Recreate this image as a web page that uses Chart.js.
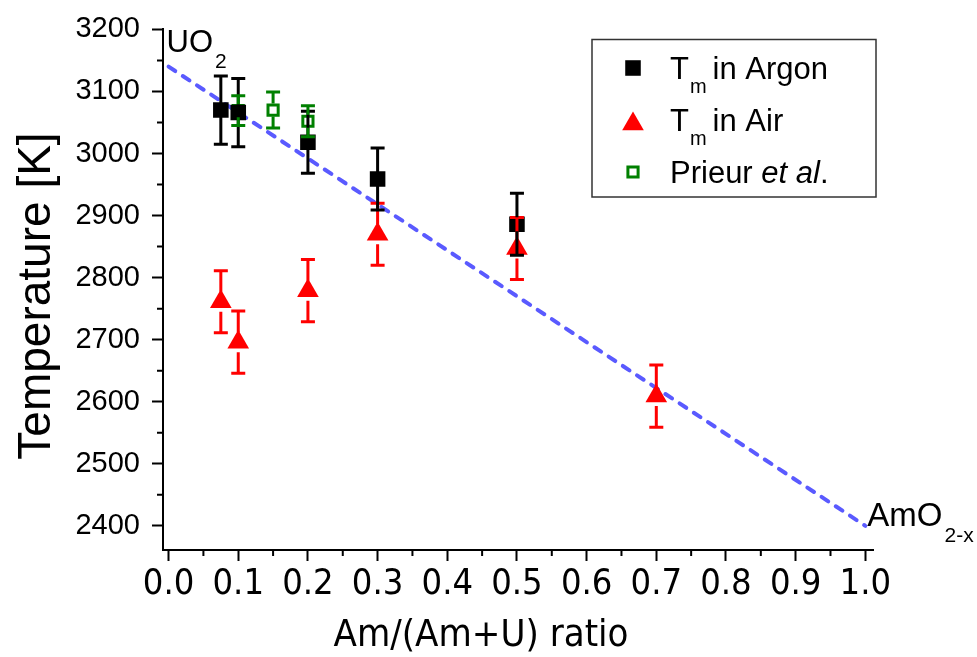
<!DOCTYPE html>
<html>
<head>
<meta charset="utf-8">
<script src="https://cdn.jsdelivr.net/npm/chart.js@4.4.1/dist/chart.umd.min.js"></script>
<style>
  html, body { margin:0; padding:0; background:#fff; }
  #wrap { width:977px; height:657px; position:relative; }
</style>
</head>
<body>
<div id="wrap"><canvas id="c" width="977" height="657"></canvas></div>
<script>
// x = Am/(Am+U) ratio, y = melting temperature [K]
var argonX   = [0.075, 0.1, 0.2, 0.3, 0.5];
var argonY   = [3070, 3066, 3018, 2959, 2886];
var argonErr = [55, 55, 50, 50, 50];

var airX   = [0.075, 0.1, 0.2, 0.3, 0.5, 0.7];
var airY   = [2761, 2696, 2779, 2870, 2847, 2609];
var airErr = [50, 50, 50, 50, 50, 50];

var prieurX   = [0.1, 0.15, 0.2];
var prieurY   = [3069, 3070, 3052];
var prieurErr = [24, 29, 25];

var fitX = [0, 1];
var fitY = [3140, 2400];

var xTicks = [0, 0.1, 0.2, 0.3, 0.4, 0.5, 0.6, 0.7, 0.8, 0.9, 1.0];
var yTicks = [2400, 2500, 2600, 2700, 2800, 2900, 3000, 3100, 3200];
var xMinor = [0.05, 0.15, 0.25, 0.35, 0.45, 0.55, 0.65, 0.75, 0.85, 0.95];
var yMinor = [2450, 2550, 2650, 2750, 2850, 2950, 3050, 3150];

var FONT = "'Liberation Sans', Arial, sans-serif";
var NARROW = "'Liberation Sans Narrow', 'Arial Narrow', 'DejaVu Sans Condensed', sans-serif";

function pts(xs, ys){
  var out = [];
  for (var i=0;i<xs.length;i++) out.push({x: xs[i], y: ys[i]});
  return out;
}

var argonStyle  = { pointStyle:'rect', radius:11, borderWidth:0, borderColor:'#000', backgroundColor:'#000' };
var airStyle    = { pointStyle:'triangle', radius:12.5, borderWidth:0, borderColor:'#f00', backgroundColor:'#f00' };
var prieurStyle = { pointStyle:'rect', radius:7.2, borderWidth:3, borderColor:'#008000', backgroundColor:'#fff' };

// error bars, drawn over all markers, with a gap round the marker centre
var errorBars = {
  id:'errorBars',
  afterDatasetsDraw: function(chart){
    var ctx = chart.ctx, xs = chart.scales.x, ys = chart.scales.y;
    var sets = [
      {x:airX, y:airY, e:airErr, color:'#f00', gap:10},
      {x:argonX, y:argonY, e:argonErr, color:'#000', gap:7},
      {x:prieurX, y:prieurY, e:prieurErr, color:'#008000', gap:6.5}
    ];
    ctx.save();
    ctx.lineWidth = 3;
    for (var s=0;s<sets.length;s++){
      var d = sets[s];
      ctx.strokeStyle = d.color;
      for (var i=0;i<d.x.length;i++){
        var px = xs.getPixelForValue(d.x[i]);
        var pc = ys.getPixelForValue(d.y[i]);
        var pt = ys.getPixelForValue(d.y[i] + d.e[i]);
        var pb = ys.getPixelForValue(d.y[i] - d.e[i]);
        ctx.beginPath();
        ctx.moveTo(px, pt); ctx.lineTo(px, pc - d.gap);
        ctx.moveTo(px, pc + d.gap); ctx.lineTo(px, pb);
        ctx.moveTo(px - 7, pt); ctx.lineTo(px + 7, pt);
        ctx.moveTo(px - 7, pb); ctx.lineTo(px + 7, pb);
        ctx.stroke();
      }
    }
    ctx.restore();
  }
};

function marker(ctx, st, x, y){
  ctx.fillStyle = st.backgroundColor;
  ctx.strokeStyle = st.borderColor;
  ctx.lineWidth = st.borderWidth;
  Chart.helpers.drawPoint(ctx, st, x, y);
}

// minor ticks, axis titles, compound labels and the legend
var extras = {
  id:'extras',
  afterDraw: function(chart){
    var ctx = chart.ctx, xs = chart.scales.x, ys = chart.scales.y, a = chart.chartArea;
    ctx.save();
    ctx.strokeStyle = '#000'; ctx.lineWidth = 2;
    ctx.beginPath();
    xMinor.forEach(function(v){ var p = xs.getPixelForValue(v); ctx.moveTo(p, a.bottom); ctx.lineTo(p, a.bottom + 6); });
    yMinor.forEach(function(v){ var p = ys.getPixelForValue(v); ctx.moveTo(a.left, p); ctx.lineTo(a.left - 6, p); });
    ctx.stroke();

    ctx.fillStyle = '#000';
    ctx.textBaseline = 'alphabetic';

    // axis titles
    ctx.font = '46px ' + FONT;
    ctx.save();
    ctx.translate(50, 296);
    ctx.rotate(-Math.PI/2);
    ctx.textAlign = 'center';
    ctx.fillText('Temperature [K]', 0, 0);
    ctx.restore();
    ctx.font = '38px ' + NARROW;
    ctx.textAlign = 'center';
    ctx.fillText('Am/(Am+U) ratio', 481, 646);
    ctx.textAlign = 'left';

    // end member labels
    function sub(main, s, x, y, big, small, drop){
      ctx.font = big + 'px ' + FONT;
      ctx.fillText(main, x, y);
      var w = ctx.measureText(main).width;
      ctx.font = small + 'px ' + FONT;
      ctx.fillText(s, x + w + 2, y + drop);
    }
    sub('UO', '2', xs.getPixelForValue(fitX[0]) - 2, ys.getPixelForValue(3163), 31, 21, 16);
    sub('AmO', '2-x', xs.getPixelForValue(fitX[1]) + 2, ys.getPixelForValue(fitY[1]), 33, 21, 16);

    // legend
    ctx.strokeStyle = '#333'; ctx.lineWidth = 1.5;
    ctx.strokeRect(592, 39.5, 284, 157.5);
    marker(ctx, argonStyle, 633, 68);
    marker(ctx, airStyle, 633, 124);
    marker(ctx, prieurStyle, 633, 172);
    ctx.fillStyle = '#000';
    function tm(rest, y){
      ctx.font = '31px ' + FONT;
      ctx.fillText('T', 670, y);
      var x = 670 + ctx.measureText('T').width + 1;
      ctx.font = '20px ' + FONT;
      ctx.fillText('m', x, y + 14);
      x += ctx.measureText('m').width + 6;
      ctx.font = '31px ' + FONT;
      ctx.fillText(rest, x, y);
    }
    tm('in Argon', 79);
    tm('in Air', 131);
    ctx.font = '31px ' + FONT;
    ctx.fillText('Prieur ', 670, 183);
    var x = 670 + ctx.measureText('Prieur ').width;
    ctx.font = 'italic 31px ' + FONT;
    ctx.fillText('et al', x, 183);
    x += ctx.measureText('et al').width;
    ctx.font = '31px ' + FONT;
    ctx.fillText('.', x, 183);
    ctx.restore();
  }
};

function ptOpts(st){
  return { pointStyle: st.pointStyle, pointRadius: st.radius, pointHoverRadius: st.radius,
           pointBorderWidth: st.borderWidth, pointBorderColor: st.borderColor,
           pointBackgroundColor: st.backgroundColor, showLine:false };
}

var dsArgon  = Object.assign({ label:'Tm in Argon', data: pts(argonX, argonY) }, ptOpts(argonStyle));
var dsPrieur = Object.assign({ label:'Prieur et al.', data: pts(prieurX, prieurY) }, ptOpts(prieurStyle));
var dsAir    = Object.assign({ label:'Tm in Air', data: pts(airX, airY) }, ptOpts(airStyle));
var dsFit    = { label:'fit', data: pts(fitX, fitY), showLine:true, pointRadius:0,
                 borderColor:'#5a5aff', borderWidth:4, borderDash:[8,9], borderCapStyle:'round', fill:false };

new Chart(document.getElementById('c'), {
  type:'scatter',
  data:{ datasets:[dsArgon, dsPrieur, dsAir, dsFit] },
  options:{
    responsive:false, animation:false, devicePixelRatio:1,
    layout:{ padding:{ top:28, right:104, left:0, bottom:0 } },
    plugins:{ legend:{display:false}, tooltip:{enabled:false} },
    scales:{
      x:{
        type:'linear', min:-0.008, max:1.011,
        afterBuildTicks: function(s){ s.ticks = xTicks.map(function(v){ return {value:v}; }); },
        afterFit: function(s){ s.height = 107; },
        ticks:{ color:'#000', padding:2, maxRotation:0, autoSkip:false,
                font:{ family:NARROW, size:36 },
                callback:function(v){ return Number(v).toFixed(1); } },
        grid:{ drawOnChartArea:false, drawTicks:true, tickLength:11, tickWidth:2, tickColor:'#000' },
        border:{ display:true, color:'#000', width:2 }
      },
      y:{
        type:'linear', min:2361, max:3200,
        afterBuildTicks: function(s){ s.ticks = yTicks.map(function(v){ return {value:v}; }); },
        afterFit: function(s){ s.width = 163; },
        ticks:{ color:'#000', padding:12, autoSkip:false,
                font:{ family:FONT, size:29 },
                callback:function(v){ return String(v); } },
        grid:{ drawOnChartArea:false, drawTicks:true, tickLength:11, tickWidth:2, tickColor:'#000' },
        border:{ display:true, color:'#000', width:2 }
      }
    }
  },
  plugins:[errorBars, extras]
});
</script>
</body>
</html>
